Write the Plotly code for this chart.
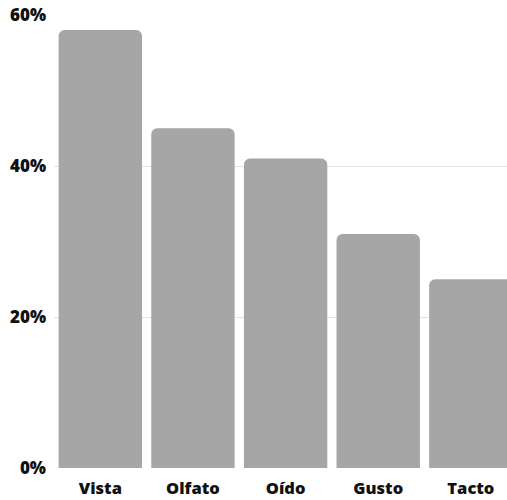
import plotly.graph_objects as go

categories = ["Vista", "Olfato", "Oído", "Gusto", "Tacto"]
values = [58, 45, 41, 31, 25]
y_ticks = [0, 20, 40, 60]
y_tick_labels = ["0%", "20%", "40%", "60%"]

fig = go.Figure(go.Bar(
    x=categories, y=values,
    marker=dict(color="#a6a6a6", line=dict(width=0)),
    hoverinfo="skip",
))

fig.update_layout(
    width=507, height=500,
    margin=dict(l=54, r=0, t=15, b=32, autoexpand=False),
    paper_bgcolor="white", plot_bgcolor="white",
    bargap=0.1,
    barcornerradius=6,
    showlegend=False,
    font=dict(family="Open Sans", size=16, color="#111111"),
)
fig.update_xaxes(
    range=[-0.5, 4.39],
    showgrid=False, showline=False, zeroline=False,
    tickfont=dict(family="Open Sans", size=16.5, color="#111111", weight=800),
    ticks="", ticklabelstandoff=8, automargin=False,
)
fig.update_yaxes(
    range=[0, 60],
    tickvals=y_ticks, ticktext=y_tick_labels,
    showgrid=True, gridcolor="#e3e3e3", gridwidth=1,
    zeroline=False, showline=False,
    tickfont=dict(family="Open Sans", size=17, color="#111111", weight=800),
    ticks="", ticklabelstandoff=7, automargin=False,
)

fig.write_html(
    "out.html",
    config={"displayModeBar": False},
    post_script="document.body.style.margin='0';document.body.style.overflow='hidden';",
)
